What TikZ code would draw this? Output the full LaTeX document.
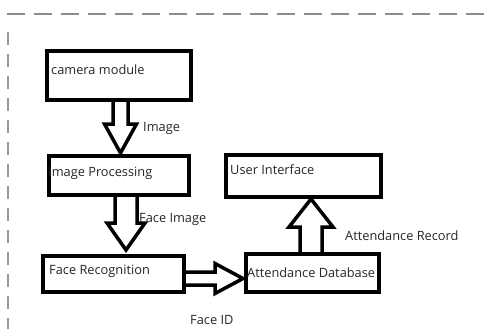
\documentclass[tikz,border=0pt]{standalone}
\usepackage{fontspec}
\setmainfont{Open Sans}
\usetikzlibrary{calc}
\tikzset{
  box/.style={draw=black, line width=4.5pt, rectangle, outer sep=0pt, inner sep=0pt, fill=white},
  txt/.style={anchor=west, inner sep=0pt, font=\fontsize{12.8}{14}\selectfont, text=black!85},
  blockarrow/.style={draw=black, line width=3.5pt, line join=miter},
  frame/.style={draw=black!45, line width=1.2pt, dash pattern=on 18pt off 9pt}
}
\begin{document}
\begin{tikzpicture}[x=1pt, y=-1pt]
\useasboundingbox (0,0) rectangle (492,329);
% dashed frame
\coordinate (ftl) at (7,14);
\coordinate (ftr) at (492,14);
\coordinate (fl1) at (8,32);
\coordinate (fl2) at (8,329);
\draw[frame] (ftl) -- (ftr);
\draw[frame, dash pattern=on 13pt off 9pt, draw=black!40] (fl1) -- (fl2);
% boxes
\node[box, minimum width=144pt, minimum height=49pt] (cam) at (119,75.5) {};
\node[box, minimum width=140pt, minimum height=39pt] (proc) at (119,175.5) {};
\node[box, minimum width=141pt, minimum height=36pt] (rec) at (113.5,274) {};
\node[box, minimum width=133pt, minimum height=38pt] (db) at (312.5,273) {};
\node[box, minimum width=155pt, minimum height=42pt] (ui) at (303.5,176) {};
% box texts
\node[txt] (tcam) at (51,70) {camera module};
\node[txt] (tproc) at (48,173) {Image Processing};
\node[txt] (trec) at (49,271) {Face Recognition};
\node[txt] (tdb) at (247,273) {Attendance Database};
\node[txt] (tui) at (230,170) {User Interface};
% arrows
\coordinate (a1s) at ($(cam.south)+(1.5,0)$);
\coordinate (a2s) at ($(proc.south)+(7,0)$);
\coordinate (a3s) at ($(rec.east)+(0,4.5)$);
\coordinate (a4s) at ($(db.north)+(-1.5,0)$);
\draw[blockarrow, shift={(a1s)}] (-7.5,0) -- (-7.5,24) -- (-16,24) -- (0,53) -- (16,24) -- (7.5,24) -- (7.5,0);
\draw[blockarrow, shift={(a2s)}] (-11,0) -- (-11,28) -- (-19,28) -- (0,55) -- (19,28) -- (11,28) -- (11,0);
\draw[blockarrow, shift={(a3s)}] (0,-6.5) -- (31,-6.5) -- (31,-15) -- (59,0) -- (31,15) -- (31,6.5) -- (0,6.5);
\draw[blockarrow, shift={(a4s)}] (-11,0) -- (-11,-27) -- (-22,-27) -- (0,-55) -- (22,-27) -- (11,-27) -- (11,0);
% arrow labels
\node[txt] (limg) at (143,128) {Image};
\node[txt] (lface) at (139,219) {Face Image};
\node[txt] (lid) at (190,320) {Face ID};
\node[txt] (lrec) at (345,236) {Attendance Record};
\end{tikzpicture}
\end{document}
